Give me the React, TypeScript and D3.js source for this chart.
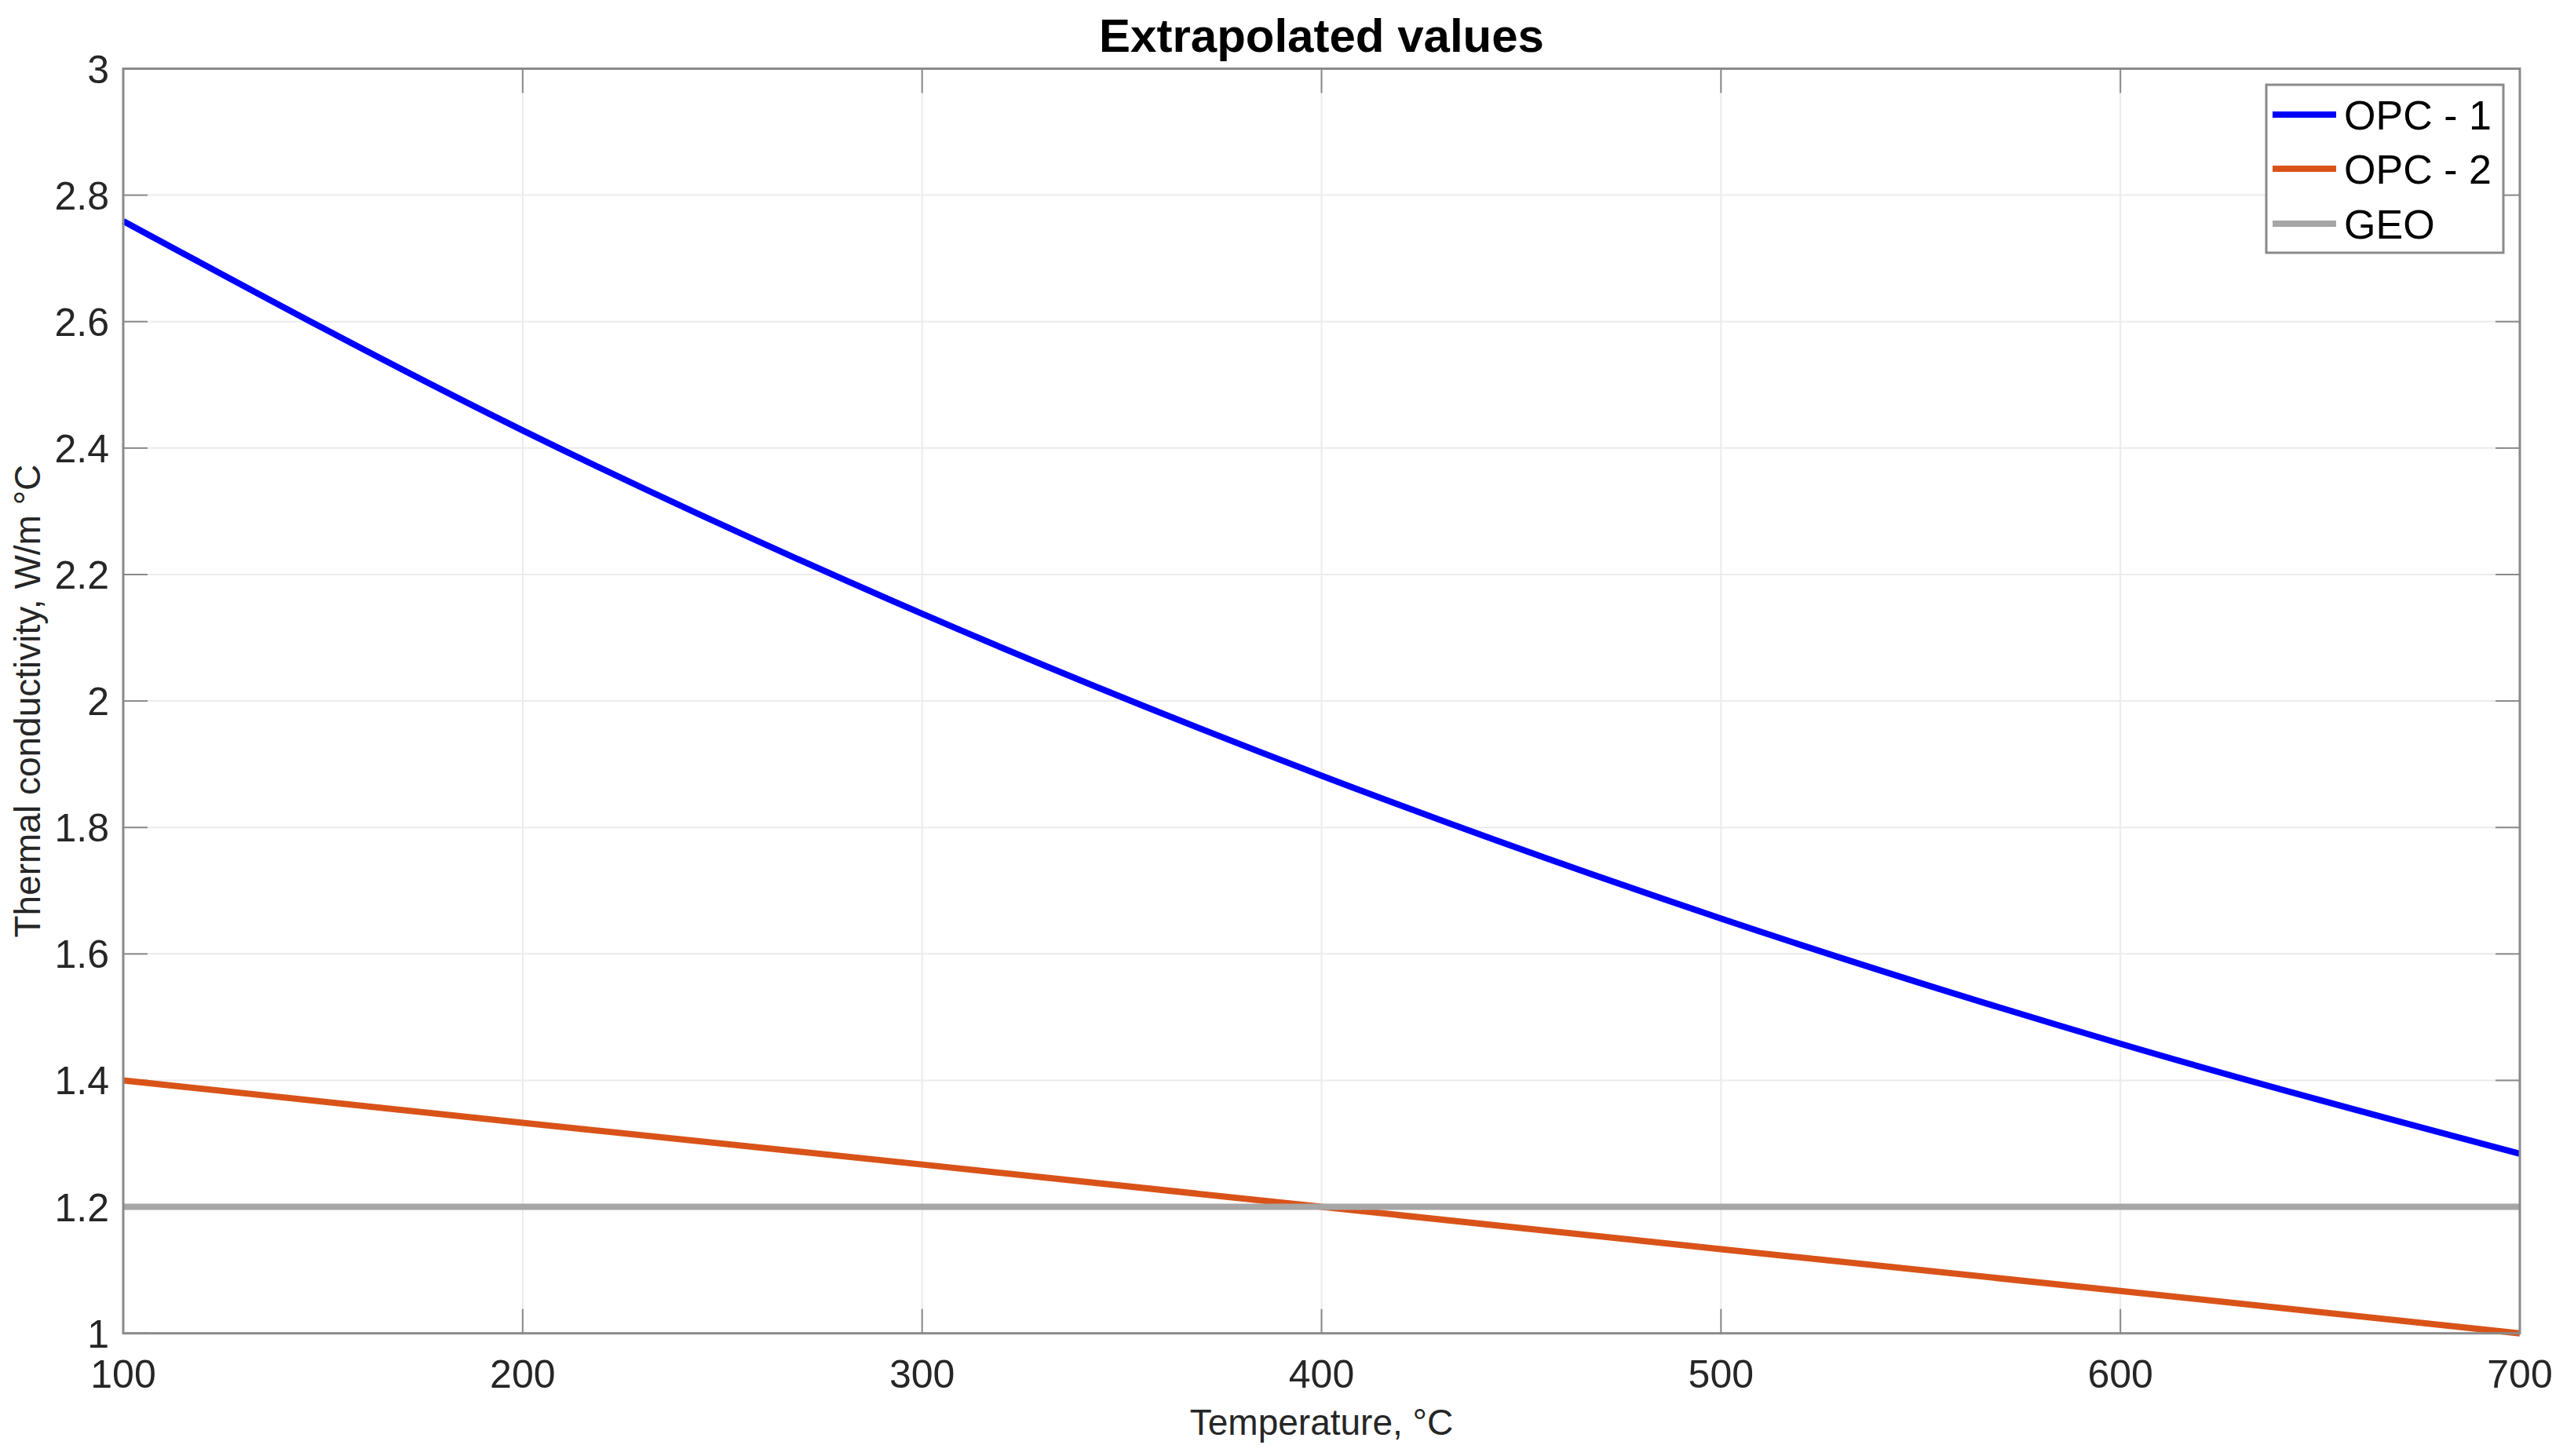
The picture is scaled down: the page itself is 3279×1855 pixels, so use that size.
import React from "react";
import * as d3 from "d3";

const temperatures = [100, 200, 300, 400, 500, 600, 700];
const opc1 = [2.759, 2.428, 2.138, 1.882, 1.656, 1.458, 1.284];
const opc2 = [1.4, 1.333, 1.267, 1.2, 1.133, 1.067, 1.0];
const geo = [1.2, 1.2, 1.2, 1.2, 1.2, 1.2, 1.2];

const xTicks = [100, 200, 300, 400, 500, 600, 700];
const yTicks = [1, 1.2, 1.4, 1.6, 1.8, 2, 2.2, 2.4, 2.6, 2.8, 3];

const seriesNames = ["OPC - 1", "OPC - 2", "GEO"];
const seriesColors = ["#0000FF", "#D95319", "#A6A6A6"];
const seriesValues = [opc1, opc2, geo];

const W = 3279;
const H = 1855;
const M = { left: 157, right: 3210, top: 87.5, bottom: 1698.7 };
const FONT = "'Liberation Sans', Arial, Helvetica, sans-serif";

export default function App() {
  const x = d3.scaleLinear().domain([100, 700]).range([M.left, M.right]);
  const y = d3.scaleLinear().domain([1, 3]).range([M.bottom, M.top]);
  const tickLen = 31;
  const axisColor = "#8a8a8a";
  const textColor = "#262626";

  const lineGen = (vals: number[], curved: boolean) =>
    d3
      .line<number>()
      .x((_, i) => x(temperatures[i]))
      .y((v) => y(v))
      .curve(curved ? d3.curveMonotoneX : d3.curveLinear)(vals) || "";

  const legend = { x: 2887, y: 108, w: 302, h: 214 };
  const rowY = [146, 215, 285];

  return (
    <div style={{ position: "absolute", left: 0, top: 0 }}>
      <svg width={W} height={H} style={{ display: "block", background: "#fff" }}>
        <rect x={0} y={0} width={W} height={H} fill="#fff" />
        {xTicks.map((t) => (
          <line key={"gx" + t} x1={x(t)} x2={x(t)} y1={M.top} y2={M.bottom} stroke="#ebebeb" strokeWidth={2} />
        ))}
        {yTicks.map((t) => (
          <line key={"gy" + t} x1={M.left} x2={M.right} y1={y(t)} y2={y(t)} stroke="#ebebeb" strokeWidth={2} />
        ))}
        {xTicks.map((t) => (
          <g key={"tx" + t}>
            <line x1={x(t)} x2={x(t)} y1={M.bottom} y2={M.bottom - tickLen} stroke={axisColor} strokeWidth={2} />
            <line x1={x(t)} x2={x(t)} y1={M.top} y2={M.top + tickLen} stroke={axisColor} strokeWidth={2} />
            <text x={x(t)} y={1768} textAnchor="middle" fontFamily={FONT} fontSize={50} fill={textColor}>
              {t}
            </text>
          </g>
        ))}
        {yTicks.map((t) => (
          <g key={"ty" + t}>
            <line x1={M.left} x2={M.left + tickLen} y1={y(t)} y2={y(t)} stroke={axisColor} strokeWidth={2} />
            <line x1={M.right} x2={M.right - tickLen} y1={y(t)} y2={y(t)} stroke={axisColor} strokeWidth={2} />
            <text x={139} y={y(t) + 18} textAnchor="end" fontFamily={FONT} fontSize={50} fill={textColor}>
              {String(t)}
            </text>
          </g>
        ))}
        {seriesValues.map((vals, i) => (
          <path
            key={"s" + i}
            d={lineGen(vals, i === 0)}
            fill="none"
            stroke={seriesColors[i]}
            strokeWidth={8}
            strokeLinejoin="round"
          />
        ))}
        <rect
          x={M.left}
          y={M.top}
          width={M.right - M.left}
          height={M.bottom - M.top}
          fill="none"
          stroke={axisColor}
          strokeWidth={3}
        />
        <text
          x={(M.left + M.right) / 2}
          y={66}
          textAnchor="middle"
          fontFamily={FONT}
          fontWeight="bold"
          fontSize={60}
          fill="#000"
        >
          Extrapolated values
        </text>
        <text
          x={(M.left + M.right) / 2}
          y={1828}
          textAnchor="middle"
          fontFamily={FONT}
          fontSize={46}
          fill={textColor}
        >
          Temperature, °C
        </text>
        <text
          transform={`translate(51, ${(M.top + M.bottom) / 2}) rotate(-90)`}
          textAnchor="middle"
          fontFamily={FONT}
          fontSize={46}
          fill={textColor}
        >
          Thermal conductivity, W/m °C
        </text>
        <rect
          x={legend.x}
          y={legend.y}
          width={legend.w}
          height={legend.h}
          fill="#fff"
          stroke="#8a8a8a"
          strokeWidth={3}
        />
        {seriesNames.map((name, i) => (
          <g key={"l" + i}>
            <line x1={2895} x2={2976} y1={rowY[i]} y2={rowY[i]} stroke={seriesColors[i]} strokeWidth={8} />
            <text x={2986} y={rowY[i] + 19} fontFamily={FONT} fontSize={52} fill="#000">
              {name}
            </text>
          </g>
        ))}
      </svg>
    </div>
  );
}
